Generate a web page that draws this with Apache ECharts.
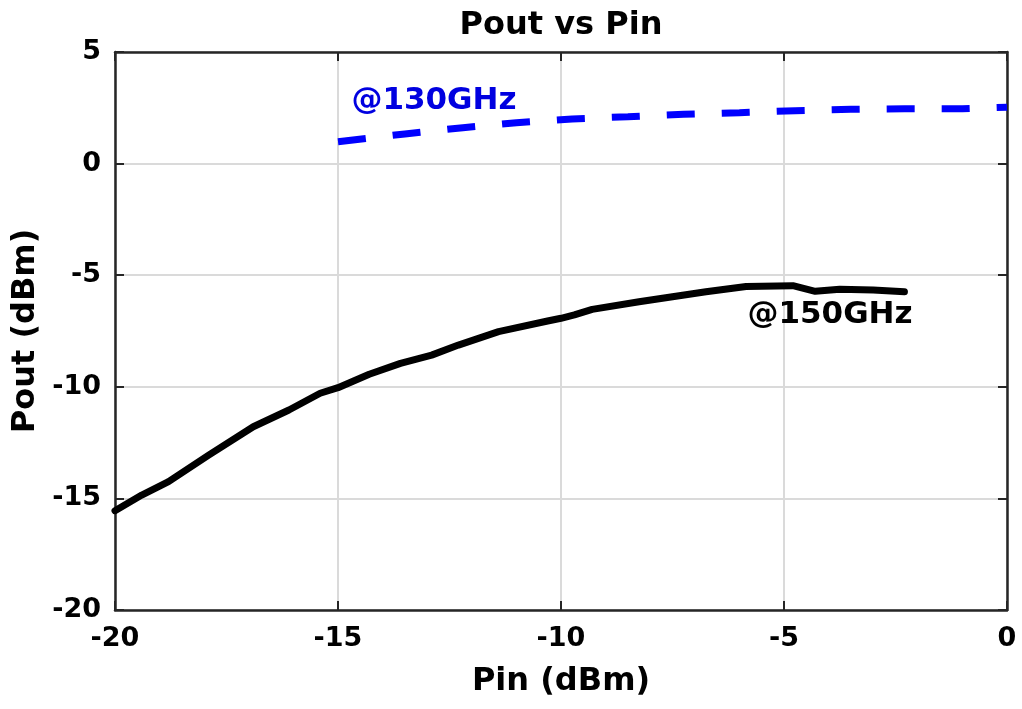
<!DOCTYPE html>
<html>
<head>
<meta charset="utf-8">
<script src="https://cdn.jsdelivr.net/npm/echarts@6/dist/echarts.min.js"></script>
<style>
html,body{margin:0;padding:0;background:#fff;}
#chart{width:1022px;height:709px;}
</style>
</head>
<body>
<div id="chart"></div>
<script>
// Data
const pin150 = [-20, -19.4, -18.8, -17.9, -16.9, -16.1, -15.4, -15.0, -14.3, -13.6, -12.9, -12.3, -11.4, -10.3, -10.0, -9.7, -9.3, -8.25, -6.75, -5.85, -4.8, -4.3, -3.75, -3.0, -2.3];
const pout150 = [-15.55, -14.85, -14.25, -13.06, -11.79, -11.04, -10.29, -10.04, -9.44, -8.95, -8.58, -8.13, -7.53, -7.05, -6.93, -6.78, -6.53, -6.19, -5.74, -5.51, -5.47, -5.72, -5.63, -5.66, -5.74];
const pin130 = [-15, -13.5, -12.2, -11, -9.75, -8.5, -7.25, -6, -4.75, -3.5, -2.3, -1, 0];
const pout130 = [0.98, 1.33, 1.61, 1.83, 2.0, 2.1, 2.21, 2.28, 2.37, 2.43, 2.46, 2.46, 2.53];
const xTicks = [-20, -15, -10, -5, 0];
const yTicks = [-20, -15, -10, -5, 0, 5];
const titleText = 'Pout vs Pin';
const xName = 'Pin (dBm)';
const yName = 'Pout (dBm)';
const label130 = '@130GHz';
const label150 = '@150GHz';
const label130At = [-14.7, 2.8];
const label150At = [-5.82, -6.78];

const FONT = '"DejaVu Sans", "Liberation Sans", Arial, sans-serif';
const AX = '#262626';
const chart = echarts.init(document.getElementById('chart'), null, {renderer: 'canvas'});

const zip = (a, b) => a.map((v, i) => [v, b[i]]);

const axisCommon = {
  axisLine: {show: true, onZero: false, lineStyle: {color: AX, width: 2.5}},
  axisTick: {show: true, inside: true, length: 9, lineStyle: {color: AX, width: 2}},
};

chart.setOption({
  backgroundColor: '#ffffff',
  animation: false,
  title: {
    text: titleText,
    left: 561,
    top: 10,
    padding: 0,
    textAlign: 'center',
    textStyle: {fontFamily: FONT, fontWeight: 'bold', fontSize: 32, color: '#000'}
  },
  grid: {left: 115, right: 15, top: 52, bottom: 99, containLabel: false},
  xAxis: [{
    type: 'value', position: 'bottom', min: xTicks[0], max: xTicks[xTicks.length - 1], interval: 5,
    name: xName, nameLocation: 'middle', nameGap: 56,
    nameTextStyle: {fontFamily: FONT, fontWeight: 'bold', fontSize: 32, color: '#000'},
    ...axisCommon,
    axisLabel: {fontFamily: FONT, fontWeight: 'bold', fontSize: 27, color: '#000', margin: 15},
    splitLine: {show: true, lineStyle: {color: '#dadada', width: 2}}
  }, {
    type: 'value', position: 'top', min: xTicks[0], max: xTicks[xTicks.length - 1], interval: 5,
    ...axisCommon,
    axisLabel: {show: false}, splitLine: {show: false}
  }],
  yAxis: [{
    type: 'value', position: 'left', min: yTicks[0], max: yTicks[yTicks.length - 1], interval: 5,
    name: yName, nameLocation: 'middle', nameGap: 60, nameRotate: 90,
    nameTextStyle: {fontFamily: FONT, fontWeight: 'bold', fontSize: 32, color: '#000'},
    ...axisCommon,
    axisLabel: {fontFamily: FONT, fontWeight: 'bold', fontSize: 27, color: '#000', margin: 14},
    splitLine: {show: true, lineStyle: {color: '#dadada', width: 2}}
  }, {
    type: 'value', position: 'right', min: yTicks[0], max: yTicks[yTicks.length - 1], interval: 5,
    ...axisCommon,
    axisLabel: {show: false}, splitLine: {show: false}
  }],
  series: [{
    name: '@150GHz', type: 'line', xAxisIndex: 0, yAxisIndex: 0,
    data: zip(pin150, pout150), showSymbol: false, symbol: 'none', smooth: false,
    lineStyle: {color: '#000000', width: 7, cap: 'round', join: 'round'},
    markPoint: {
      symbol: 'circle', symbolSize: 0, silent: true,
      label: {show: true, position: 'right', distance: 0, formatter: label150,
        fontFamily: FONT, fontWeight: 'bold', fontSize: 31, color: '#000'},
      data: [{coord: label150At}]
    }
  }, {
    name: '@130GHz', type: 'line', xAxisIndex: 0, yAxisIndex: 0,
    data: zip(pin130, pout130), showSymbol: false, symbol: 'none', smooth: false,
    lineStyle: {color: '#0000ff', width: 7, type: [28, 27], cap: 'butt'},
    markPoint: {
      symbol: 'circle', symbolSize: 0, silent: true,
      label: {show: true, position: 'right', distance: 0, formatter: label130,
        fontFamily: FONT, fontWeight: 'bold', fontSize: 31, color: '#0000e0'},
      data: [{coord: label130At}]
    }
  }]
});
</script>
</body>
</html>
